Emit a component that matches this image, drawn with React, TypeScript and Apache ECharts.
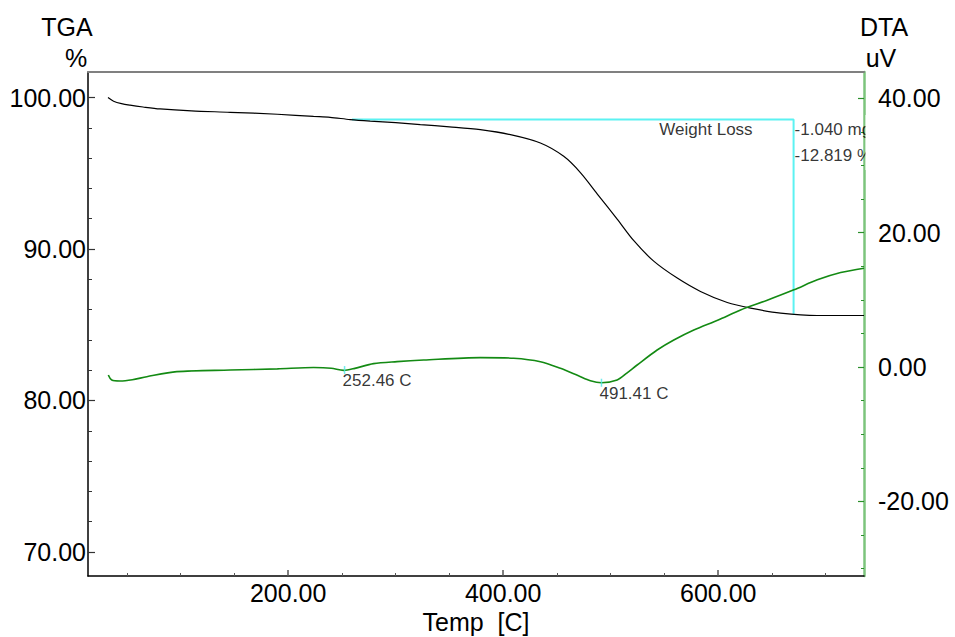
import React, { useEffect, useRef } from "react";
import * as echarts from "echarts";

// Temperature axis range [C]
const TEMP_MIN = 13.8;
const TEMP_MAX = 735.6;
// TGA axis range [%] and DTA axis range [uV]
const TGA_MIN = 68.41;
const TGA_MAX = 101.69;
const DTA_MIN = -31.1;
const DTA_MAX = 43.9;

const TEMP_MAJOR = [200, 400, 600];
const TEMP_MINOR = [50, 100, 150, 250, 300, 350, 450, 500, 550, 650, 700];
const TGA_MAJOR = [70, 80, 90, 100];
const TGA_MINOR = [72, 74, 76, 78, 82, 84, 86, 88, 92, 94, 96, 98];
const DTA_MAJOR = [-20, 0, 20, 40];
const DTA_MINOR = [-30, -25, -15, -10, -5, 5, 10, 15, 25, 30, 35];

// TGA curve: temperature [C], mass [%]
const tgaTemp = [
  32.4, 37.6, 45, 52.9, 65, 80.8, 110, 146, 190, 223.6, 239, 257.7, 276.3, 300,
  322.9, 350, 378.7, 406.7, 434.6, 456.3, 471.8, 488.5, 506, 521.5, 540, 561.9,
  583.5, 608.4, 630.1, 658, 692.2, 735.6,
];
const tgaValue = [
  100.0, 99.76, 99.6, 99.5, 99.38, 99.25, 99.12, 99.03, 98.9, 98.76, 98.7, 98.55,
  98.45, 98.35, 98.22, 98.07, 97.88, 97.55, 97.0, 96.12, 95.05, 93.55, 91.98,
  90.55, 89.2, 88.08, 87.2, 86.47, 86.1, 85.77, 85.61, 85.61,
];

// DTA curve: temperature [C], signal [uV]
const dtaTemp = [
  32.7, 35.9, 43.6, 55, 68.5, 96.4, 146, 190, 223.6, 240, 251.5, 262, 279.4,
  301.2, 326, 378.7, 409.7, 434.6, 453.2, 470, 481.1, 491.4, 506, 515, 524.6,
  543.2, 558.7, 577.3, 600, 620.8, 645, 670.4, 692.2, 713.9, 735.6,
];
const dtaValue = [
  -1.19, -1.94, -2.09, -1.9, -1.44, -0.69, -0.45, -0.28, -0.08, -0.18, -0.5, -0.2,
  0.5, 0.8, 1.04, 1.4, 1.3, 0.79, -0.19, -1.3, -2.04, -2.34, -1.94, -0.9, 0.3,
  2.53, 4.02, 5.51, 7.0, 8.49, 9.9, 11.48, 12.97, 14.05, 14.7,
];

// DTA peaks: temperature [C], signal [uV]
const peakTemp = [252.46, 491.41];
const peakValue = [-0.45, -2.34];

// Weight-loss step
const lossStartTemp = 259.3;
const lossEndTemp = 670.1;
const lossStartLevel = 98.55;
const lossPercent = 12.819;
const lossMass = 1.04;

const FONT = "'Liberation Sans', Arial, Helvetica, sans-serif";

export default function App() {
  const ref = useRef<HTMLDivElement>(null);

  useEffect(() => {
    if (!ref.current) return;
    const chart = echarts.init(ref.current, null, { renderer: "svg" });

    const tgaData = tgaTemp.map((t, i) => [t, tgaValue[i]]);
    const dtaData = dtaTemp.map((t, i) => [t, dtaValue[i]]);
    const peakData = peakTemp.map((t, i) => [t, peakValue[i]]);
    const lossEndLevel = lossStartLevel - lossPercent;
    const lossData = [
      [lossStartTemp, lossStartLevel],
      [lossEndTemp, lossStartLevel],
      [lossEndTemp, lossEndLevel],
    ];

    const fmt2 = (v: number) => v.toFixed(2);
    const labelBase = { fontFamily: FONT, fontSize: 25, color: "#000" };

    chart.setOption({
      animation: false,
      backgroundColor: "#fff",
      grid: { left: 88, right: 91, top: 72, bottom: 61, containLabel: false },
      xAxis: [
        {
          type: "value",
          min: TEMP_MIN,
          max: TEMP_MAX,
          position: "bottom",
          axisLine: { onZero: false, lineStyle: { color: "#000", width: 1.5 } },
          axisTick: {
            inside: true,
            length: 6,
            customValues: TEMP_MAJOR,
            lineStyle: { color: "#555", width: 1.5 },
          },
          axisLabel: { ...labelBase, customValues: TEMP_MAJOR, formatter: fmt2, margin: 4 },
          splitLine: { show: false },
        },
        {
          type: "value",
          min: TEMP_MIN,
          max: TEMP_MAX,
          position: "bottom",
          axisLine: { show: false, onZero: false },
          axisTick: {
            inside: true,
            length: 3,
            customValues: TEMP_MINOR,
            lineStyle: { color: "#555", width: 1 },
          },
          axisLabel: { show: false },
          splitLine: { show: false },
        },
        {
          type: "value",
          min: TEMP_MIN,
          max: TEMP_MAX,
          position: "top",
          axisLine: { onZero: false, lineStyle: { color: "#808080", width: 2 } },
          axisTick: { show: false },
          axisLabel: { show: false },
          splitLine: { show: false },
        },
      ],
      yAxis: [
        {
          type: "value",
          min: TGA_MIN,
          max: TGA_MAX,
          position: "left",
          axisLine: { show: true, onZero: false, lineStyle: { color: "#000", width: 1.5 } },
          axisTick: {
            show: true,
            inside: true,
            length: 7,
            customValues: TGA_MAJOR,
            lineStyle: { color: "#333", width: 1.2 },
          },
          axisLabel: { ...labelBase, customValues: TGA_MAJOR, formatter: fmt2, margin: 2 },
          splitLine: { show: false },
        },
        {
          type: "value",
          min: TGA_MIN,
          max: TGA_MAX,
          position: "left",
          axisLine: { show: false, onZero: false },
          axisTick: {
            show: true,
            inside: true,
            length: 4,
            customValues: TGA_MINOR,
            lineStyle: { color: "#333", width: 1 },
          },
          axisLabel: { show: false },
          splitLine: { show: false },
        },
        {
          type: "value",
          min: DTA_MIN,
          max: DTA_MAX,
          position: "right",
          axisLine: { show: true, onZero: false, lineStyle: { color: "#7cc47c", width: 2.5 } },
          axisTick: {
            show: true,
            inside: true,
            length: 6,
            customValues: DTA_MAJOR,
            lineStyle: { color: "#2a8f2a", width: 1.2 },
          },
          axisLabel: { ...labelBase, customValues: DTA_MAJOR, formatter: fmt2, margin: 14 },
          splitLine: { show: false },
        },
        {
          type: "value",
          min: DTA_MIN,
          max: DTA_MAX,
          position: "right",
          axisLine: { show: false, onZero: false },
          axisTick: {
            show: true,
            inside: true,
            length: 3,
            customValues: DTA_MINOR,
            lineStyle: { color: "#2a8f2a", width: 1 },
          },
          axisLabel: { show: false },
          splitLine: { show: false },
        },
      ],
      series: [
        {
          name: "Weight Loss",
          type: "line",
          xAxisIndex: 0,
          yAxisIndex: 0,
          data: lossData,
          symbol: "none",
          lineStyle: { color: "#5cf2f2", width: 2 },
          z: 1,
        },
        {
          name: "TGA",
          type: "line",
          xAxisIndex: 0,
          yAxisIndex: 0,
          data: tgaData,
          symbol: "none",
          smooth: 0.3,
          lineStyle: { color: "#000", width: 1.2 },
          z: 3,
        },
        {
          name: "DTA",
          type: "line",
          xAxisIndex: 0,
          yAxisIndex: 2,
          data: dtaData,
          symbol: "none",
          smooth: 0.3,
          lineStyle: { color: "#138a13", width: 1.6 },
          z: 3,
        },
        {
          name: "Peaks",
          type: "scatter",
          xAxisIndex: 0,
          yAxisIndex: 2,
          data: peakData,
          symbol: "rect",
          symbolSize: [1.5, 8],
          itemStyle: { color: "#4fe8e8" },
          label: {
            show: true,
            position: "inside",
            align: "left",
            verticalAlign: "top",
            offset: [-2, 2],
            fontFamily: FONT,
            fontSize: 17,
            color: "#000",
            textBorderWidth: 0,
            formatter: (p: any) => `${p.value[0].toFixed(2)} C`,
          },
          z: 4,
        },
        {
          name: "Weight Loss Label",
          type: "scatter",
          xAxisIndex: 0,
          yAxisIndex: 0,
          data: [[lossEndTemp, lossStartLevel]],
          symbolSize: 1,
          itemStyle: { color: "transparent" },
          label: {
            show: true,
            position: "inside",
            align: "right",
            verticalAlign: "middle",
            offset: [-41, 10],
            fontFamily: FONT,
            fontSize: 17,
            color: "#000",
            textBorderWidth: 0,
            formatter: "Weight Loss",
          },
          z: 4,
        },
        {
          name: "Weight Loss Values",
          type: "scatter",
          xAxisIndex: 0,
          yAxisIndex: 0,
          data: [[lossEndTemp, lossStartLevel]],
          symbolSize: 1,
          itemStyle: { color: "transparent" },
          label: {
            show: true,
            position: "inside",
            align: "left",
            verticalAlign: "top",
            offset: [1, -3],
            lineHeight: 26,
            fontFamily: FONT,
            fontSize: 17,
            color: "#000",
            textBorderWidth: 0,
            formatter: `-${lossMass.toFixed(3)} mg\n-${lossPercent.toFixed(3)} %`,
          },
          z: 4,
        },
      ],
      graphic: [
        {
          type: "rect",
          shape: { x: 865.5, y: 115, width: 12, height: 55 },
          style: { fill: "#fff" },
          z: 20,
        },
        {
          type: "text",
          x: 67,
          y: 27,
          style: { text: "TGA", fontFamily: FONT, fontSize: 25, fill: "#000", align: "center", verticalAlign: "middle" },
        },
        {
          type: "text",
          x: 76,
          y: 58,
          style: { text: "%", fontFamily: FONT, fontSize: 25, fill: "#000", align: "center", verticalAlign: "middle" },
        },
        {
          type: "text",
          x: 884,
          y: 27,
          style: { text: "DTA", fontFamily: FONT, fontSize: 25, fill: "#000", align: "center", verticalAlign: "middle" },
        },
        {
          type: "text",
          x: 881,
          y: 58,
          style: { text: "uV", fontFamily: FONT, fontSize: 25, fill: "#000", align: "center", verticalAlign: "middle" },
        },
        {
          type: "text",
          x: 476,
          y: 622,
          style: { text: "Temp  [C]", fontFamily: FONT, fontSize: 25, fill: "#000", align: "center", verticalAlign: "middle" },
        },
      ],
    });

    return () => chart.dispose();
  }, []);

  return (
    <div
      ref={ref}
      style={{ position: "absolute", left: 0, top: 0, width: 955, height: 637 }}
    />
  );
}
